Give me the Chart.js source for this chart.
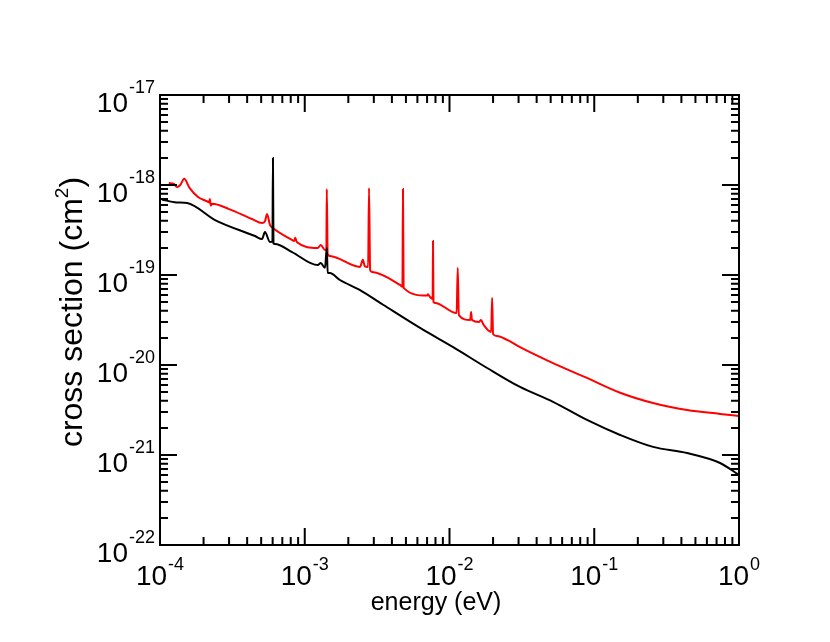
<!DOCTYPE html>
<html>
<head>
<meta charset="utf-8">
<title>cross section vs energy</title>
<script src="https://cdn.jsdelivr.net/npm/chart.js@4.4.1/dist/chart.umd.min.js"></script>
<style>
  html, body { margin: 0; padding: 0; background: #fff; }
  #wrap { width: 830px; height: 642px; position: relative; }
</style>
</head>
<body>
<div id="wrap"><canvas id="xsChart"></canvas></div>
<script>
// ----- DATA -----
const redEnergy = [
  1.15e-4, 1.25e-4, 1.31e-4, 1.38e-4, 1.47e-4, 1.6e-4, 1.83e-4, 2.15e-4, 2.18e-4, 2.21e-4,
  2.24e-4, 2.3e-4, 3.0e-4, 4.32e-4, 5.07e-4, 5.31e-4, 5.49e-4, 5.75e-4, 6.03e-4, 8.17e-4,
  8.45e-4, 8.6e-4, 8.8e-4, 1.23e-3, 1.29e-3, 1.38e-3, 1.41e-3, 1.42e-3, 1.44e-3, 1.49e-3,
  2.41e-3, 2.52e-3, 2.6e-3, 2.74e-3, 2.78e-3, 2.83e-3, 2.92e-3, 4.55e-3, 4.73e-3, 4.77e-3,
  4.82e-3, 6.99e-3, 7.1e-3, 7.3e-3, 7.65e-3, 7.69e-3, 7.75e-3, 7.94e-3, 1.12e-2, 1.14e-2,
  1.16e-2, 1.39e-2, 1.41e-2, 1.43e-2, 1.6e-2, 1.65e-2, 1.72e-2, 1.94e-2, 1.97e-2, 2.0e-2,
  2.13e-2, 2.5e-2, 3.07e-2, 5.19e-2, 8.91e-2, 0.151, 0.255, 0.438, 0.74, 1.0
];
const redSigma = [
  1.05e-18, 1.03e-18, 9.5e-19, 1.0e-18, 1.17e-18, 9.3e-19, 7.36e-19, 6.5e-19, 6.4e-19, 7.0e-19,
  5.9e-19, 6.2e-19, 5.4e-19, 4.19e-19, 3.78e-19, 3.95e-19, 4.76e-19, 3.6e-19, 3.33e-19, 2.45e-19,
  2.39e-19, 2.6e-19, 2.33e-19, 2.0e-19, 2.15e-19, 1.9e-19, 1.9e-19, 9.0e-19, 1.7e-19, 1.63e-19,
  1.23e-19, 1.48e-19, 1.25e-19, 1.23e-19, 9.26e-19, 1.13e-19, 1.08e-19, 7.75e-20, 7.4e-20, 9.0e-19,
  7.2e-20, 5.9e-20, 6.1e-20, 5.75e-20, 5.4e-20, 2.39e-19, 5.0e-20, 4.89e-20, 3.78e-20, 1.2e-19,
  3.59e-20, 3.16e-20, 3.88e-20, 3.16e-20, 3.0e-20, 3.16e-20, 2.8e-20, 2.33e-20, 5.55e-20, 2.21e-20,
  2.1e-20, 1.9e-20, 1.58e-20, 1.05e-20, 7.18e-21, 4.92e-21, 3.78e-21, 3.16e-21, 2.86e-21, 2.71e-21
];

const blackEnergy = [
  1.03e-4, 1.3e-4, 1.54e-4, 2.4e-4, 4.53e-4, 5.07e-4, 5.31e-4, 5.75e-4, 5.98e-4, 6.03e-4,
  6.08e-4, 6.23e-4, 8.17e-4, 1.23e-3, 1.29e-3, 1.38e-3, 1.42e-3, 1.44e-3, 1.49e-3, 1.75e-3,
  2.41e-3, 3.5e-3, 6.26e-3, 1.06e-2, 1.82e-2, 3.07e-2, 5.19e-2, 8.91e-2, 0.151, 0.255,
  0.438, 0.74, 1.0
];
const blackSigma = [
  6.9e-19, 6.4e-19, 6.3e-19, 4.08e-19, 2.71e-19, 2.51e-19, 3.0e-19, 2.33e-19, 2.35e-19, 2.0e-18,
  2.25e-19, 2.21e-19, 1.8e-19, 1.29e-19, 1.36e-19, 1.2e-19, 2.0e-19, 1.05e-19, 1.05e-19, 8.8e-20,
  6.8e-20, 4.64e-20, 2.58e-20, 1.58e-20, 9.26e-21, 5.7e-21, 3.9e-21, 2.45e-21, 1.67e-21, 1.23e-21,
  1.05e-21, 8.15e-22, 6.0e-22
];

// tick label exponents
const xTickExp = [-4, -3, -2, -1, 0];
const yTickExp = [-22, -21, -20, -19, -18, -17];
const minorMult = [2, 3, 4, 5, 6, 7, 8, 9];

const FONT = "'Liberation Sans', Arial, Helvetica, sans-serif";

const toPoints = (xs, ys) => xs.map((x, i) => ({ x: x, y: ys[i] }));

// draws the box, inward ticks on all four sides, the 10^n labels and the axis titles
const framePlugin = {
  id: 'framePlugin',
  afterDraw(chart) {
    const { ctx, chartArea: a } = chart;
    const xs = chart.scales.x, ys = chart.scales.y;
    const MAJ = 17, MIN = 8;
    ctx.save();
    ctx.strokeStyle = '#000';
    ctx.lineWidth = 2;
    ctx.strokeRect(a.left, a.top, a.right - a.left, a.bottom - a.top);

    ctx.beginPath();
    xTickExp.forEach((n, i) => {
      const px = xs.getPixelForValue(Math.pow(10, n));
      ctx.moveTo(px, a.bottom); ctx.lineTo(px, a.bottom - MAJ);
      ctx.moveTo(px, a.top); ctx.lineTo(px, a.top + MAJ);
      if (i < xTickExp.length - 1) {
        minorMult.forEach(k => {
          const mx = xs.getPixelForValue(k * Math.pow(10, n));
          ctx.moveTo(mx, a.bottom); ctx.lineTo(mx, a.bottom - MIN);
          ctx.moveTo(mx, a.top); ctx.lineTo(mx, a.top + MIN);
        });
      }
    });
    yTickExp.forEach((n, i) => {
      const py = ys.getPixelForValue(Math.pow(10, n));
      ctx.moveTo(a.left, py); ctx.lineTo(a.left + MAJ, py);
      ctx.moveTo(a.right, py); ctx.lineTo(a.right - MAJ, py);
      if (i < yTickExp.length - 1) {
        minorMult.forEach(k => {
          const my = ys.getPixelForValue(k * Math.pow(10, n));
          ctx.moveTo(a.left, my); ctx.lineTo(a.left + MIN, my);
          ctx.moveTo(a.right, my); ctx.lineTo(a.right - MIN, my);
        });
      }
    });
    ctx.stroke();

    // tick labels
    ctx.fillStyle = '#000';
    ctx.textBaseline = 'alphabetic';
    const big = '28px ' + FONT, small = '18px ' + FONT;

    yTickExp.forEach(n => {
      const py = ys.getPixelForValue(Math.pow(10, n));
      const sup = String(n);
      ctx.font = small;
      const sw = ctx.measureText(sup).width;
      ctx.textAlign = 'right';
      ctx.fillText(sup, a.left - 5, py - 2);
      ctx.font = big;
      ctx.fillText('10', a.left - 5 - sw - 1, py + 17);
    });

    xTickExp.forEach(n => {
      const px = xs.getPixelForValue(Math.pow(10, n));
      const sup = String(n);
      ctx.font = big;
      const bw = ctx.measureText('10').width;
      ctx.font = small;
      const sw = ctx.measureText(sup).width;
      const x0 = px - (bw + 1 + sw) / 2;
      ctx.textAlign = 'left';
      ctx.font = big;
      ctx.fillText('10', x0, a.bottom + 40);
      ctx.font = small;
      ctx.fillText(sup, x0 + bw + 1, a.bottom + 25);
    });

    // axis titles
    ctx.font = '25px ' + FONT;
    ctx.textAlign = 'center';
    ctx.fillText('energy (eV)', 436, a.bottom + 65);

    ctx.save();
    ctx.translate(82, 312);
    ctx.rotate(-Math.PI / 2);
    const tFont = '32px ' + FONT, sFont = '19px ' + FONT;
    ctx.font = tFont;
    const w1 = ctx.measureText('cross section (cm').width;
    const w3 = ctx.measureText(')').width;
    ctx.font = sFont;
    const w2 = ctx.measureText('2').width;
    let tx = -(w1 + w2 + w3) / 2;
    ctx.textAlign = 'left';
    ctx.font = tFont;
    ctx.fillText('cross section (cm', tx, 0);
    tx += w1;
    ctx.font = sFont;
    ctx.fillText('2', tx, -14);
    tx += w2;
    ctx.font = tFont;
    ctx.fillText(')', tx, 0);
    ctx.restore();

    ctx.restore();
  }
};

const ctx = document.getElementById('xsChart').getContext('2d');
new Chart(ctx, {
  type: 'line',
  data: {
    datasets: [
      {
        label: 'black',
        data: toPoints(blackEnergy, blackSigma),
        borderColor: '#000000',
        borderWidth: 2,
        pointRadius: 0,
        cubicInterpolationMode: 'monotone',
        fill: false,
        order: 1
      },
      {
        label: 'red',
        data: toPoints(redEnergy, redSigma),
        borderColor: '#ff0000',
        borderWidth: 2,
        pointRadius: 0,
        cubicInterpolationMode: 'monotone',
        fill: false,
        order: 2
      }
    ]
  },
  options: {
    responsive: true,
    maintainAspectRatio: false,
    animation: false,
    layout: { padding: { left: 160, right: 91, top: 95, bottom: 97 } },
    scales: {
      x: {
        type: 'logarithmic',
        min: 1e-4,
        max: 1,
        grid: { display: false },
        border: { display: false },
        ticks: { display: false },
        afterFit: (scale) => { scale.height = 0; }
      },
      y: {
        type: 'logarithmic',
        min: 1e-22,
        max: 1e-17,
        grid: { display: false },
        border: { display: false },
        ticks: { display: false },
        afterFit: (scale) => { scale.width = 0; }
      }
    },
    plugins: {
      legend: { display: false },
      tooltip: { enabled: false }
    }
  },
  plugins: [framePlugin]
});
</script>
</body>
</html>
